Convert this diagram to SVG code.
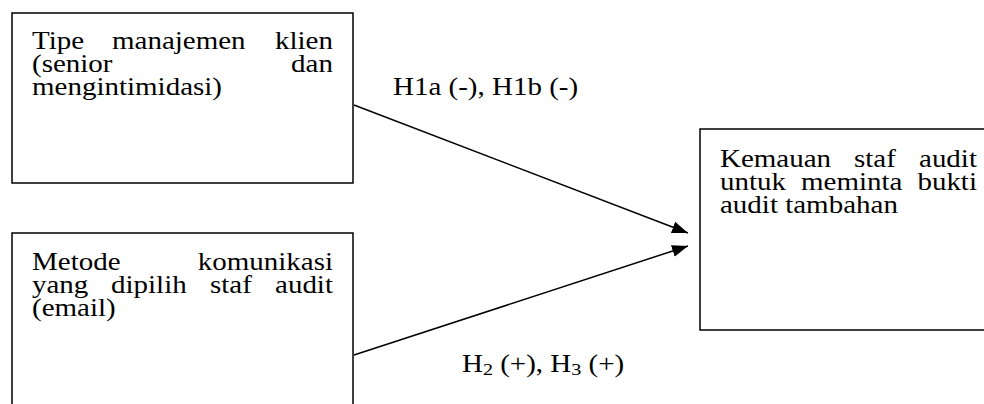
<svg xmlns="http://www.w3.org/2000/svg" width="984" height="404" viewBox="0 0 984 404">
<defs>
<style>
.box{fill:#fff;stroke:#000;stroke-width:1.5}
.t{font-family:"Liberation Serif","Times New Roman",serif;font-size:24.5px;fill:#000}
.e{text-anchor:end}
.c{stroke:#000;stroke-width:1.5;fill:none;marker-end:url(#ah)}
</style>
<marker id="ah" markerUnits="userSpaceOnUse" markerWidth="18" markerHeight="14" refX="16" refY="6" orient="auto" viewBox="0 0 18 12">
<path d="M0,0 L16,6 L0,12 Z" fill="#000"/>
</marker>
</defs>
<rect width="984" height="404" fill="#fff"/>
<g id="n1">
<rect class="box" x="12" y="13" width="341" height="170"/>
<g transform="scale(1.184 1)">
<text class="t" y="49"><tspan x="27.03">Tipe</tspan><tspan x="94.59">manajemen</tspan><tspan x="281.25" class="e">klien</tspan></text>
<text class="t" y="72"><tspan x="27.03">(senior</tspan><tspan x="281.25" class="e">dan</tspan></text>
<text class="t" x="27.03" y="95">mengintimidasi)</text>
</g>
</g>
<g id="n2">
<rect class="box" x="12" y="233" width="341" height="190"/>
<g transform="scale(1.184 1)">
<text class="t" y="270"><tspan x="27.03">Metode</tspan><tspan x="281.25" class="e">komunikasi</tspan></text>
<text class="t" y="293"><tspan x="27.03">yang</tspan><tspan x="93.75">dipilih</tspan><tspan x="177.36">staf</tspan><tspan x="281.25" class="e">audit</tspan></text>
<text class="t" x="27.03" y="316.5">(email)</text>
</g>
</g>
<g id="n3">
<rect class="box" x="700" y="129" width="300" height="201"/>
<g transform="scale(1.184 1)">
<text class="t" y="167.5"><tspan x="608.11">Kemauan</tspan><tspan x="721.28">staf</tspan><tspan x="825.17" class="e">audit</tspan></text>
<text class="t" y="190.5"><tspan x="608.11">untuk</tspan><tspan x="676.52">meminta</tspan><tspan x="825.17" class="e">bukti</tspan></text>
<text class="t" x="608.11" y="213.5">audit tambahan</text>
</g>
</g>
<g id="connectors">
<line class="c" x1="354" y1="105" x2="688" y2="233"/>
<line class="c" x1="354" y1="355" x2="688" y2="246"/>
<g transform="scale(1.184 1)">
<text class="t" x="331.93" y="95">H1a (-), H1b (-)</text>
<text class="t" x="390.2" y="372">H<tspan font-size="17" dy="3">2</tspan><tspan dy="-3"> (+), H</tspan><tspan font-size="17" dy="3">3</tspan><tspan dy="-3"> (+)</tspan></text>
</g>
</g>
</svg>
